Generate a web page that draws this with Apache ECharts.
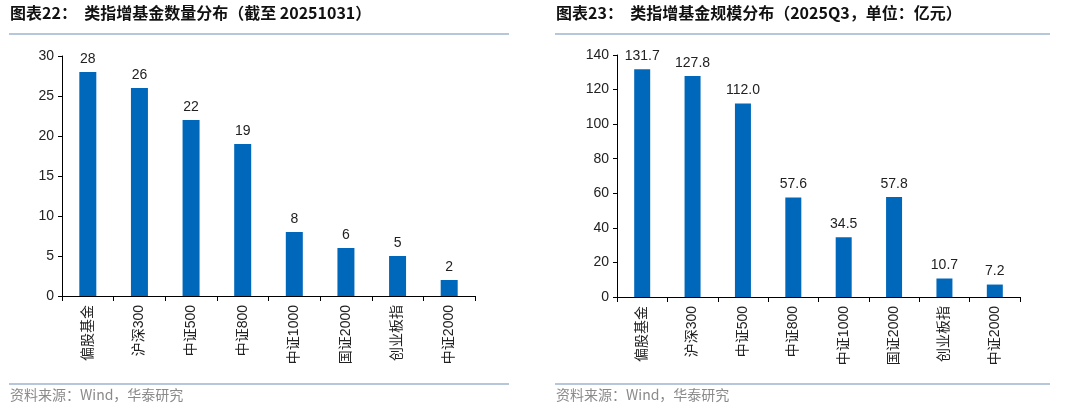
<!DOCTYPE html>
<html><head><meta charset="utf-8">
<script src="https://cdn.jsdelivr.net/npm/echarts@6/dist/echarts.min.js"></script>
<style>html,body{margin:0;padding:0;background:#fff}#c{width:1080px;height:414px}</style>
</head><body><div id="c"></div>
<script>
const categories = ['偏股基金','沪深300','中证500','中证800','中证1000','国证2000','创业板指','中证2000'];
const countValues = [28, 26, 22, 19, 8, 6, 5, 2];
const scaleValues = [131.7, 127.8, 112.0, 57.6, 34.5, 57.8, 10.7, 7.2];
const leftTitle = '图表22：  类指增基金数量分布（截至 20251031）';
const rightTitle = '图表23：  类指增基金规模分布（2025Q3，单位：亿元）';
const sourceText = '资料来源：Wind，华泰研究';

const FONT = '"Liberation Sans", Arial, "Noto Sans CJK SC", sans-serif';
const BAR = '#0068BB';
const chart = echarts.init(document.getElementById('c'), null, {renderer:'canvas'});

function xAxis(gi){
  return {type:'category', gridIndex:gi, data:categories,
    axisLine:{lineStyle:{color:'#000', width:1}},
    axisTick:{show:true, alignWithLabel:false, length:5, lineStyle:{color:'#000'}},
    axisLabel:{rotate:90, color:'#222', fontSize:14, fontFamily:FONT, margin:9, interval:0}};
}
function yAxis(gi, max, interval){
  return {type:'value', gridIndex:gi, min:0, max:max, interval:interval,
    axisLine:{show:true, lineStyle:{color:'#000', width:1}},
    axisTick:{show:true, length:4, lineStyle:{color:'#000'}},
    splitLine:{show:false},
    axisLabel:{color:'#222', fontSize:14, fontFamily:FONT, margin:8}};
}
const labelStyle = (fmt)=>({show:true, position:'top', distance:6, color:'#222', fontSize:14, fontFamily:FONT, formatter:fmt});

chart.setOption({
  animation:false,
  textStyle:{fontFamily:FONT},
  grid:[
    {left:62, top:56, width:413, height:240, containLabel:false},
    {left:617, top:55, width:403, height:242, containLabel:false}
  ],
  xAxis:[xAxis(0), xAxis(1)],
  yAxis:[yAxis(0, 30, 5), yAxis(1, 140, 20)],
  series:[
    {type:'bar', xAxisIndex:0, yAxisIndex:0, data:countValues, barWidth:17,
     itemStyle:{color:BAR}, label:labelStyle(p=>p.value)},
    {type:'bar', xAxisIndex:1, yAxisIndex:1, data:scaleValues, barWidth:16,
     itemStyle:{color:BAR}, label:labelStyle(p=>p.value.toFixed(1))}
  ],
  graphic:[
    {type:'text', left:10, top:5, style:{text:leftTitle, font:'bold 16px "Noto Sans CJK SC", "Liberation Sans", sans-serif', fill:'#111'}},
    {type:'text', left:556, top:5, style:{text:rightTitle, font:'bold 16px "Noto Sans CJK SC", "Liberation Sans", sans-serif', fill:'#111'}},
    {type:'line', shape:{x1:9, y1:34, x2:509, y2:34}, style:{stroke:'#9FB4CF', lineWidth:1.5}},
    {type:'line', shape:{x1:555, y1:34, x2:1050, y2:34}, style:{stroke:'#9FB4CF', lineWidth:1.5}},
    {type:'line', shape:{x1:9, y1:384, x2:509, y2:384}, style:{stroke:'#9FB4CF', lineWidth:1.5}},
    {type:'line', shape:{x1:555, y1:384, x2:1050, y2:384}, style:{stroke:'#9FB4CF', lineWidth:1.5}},
    {type:'text', left:10, top:388, style:{text:sourceText, font:'14px "Noto Sans CJK SC", sans-serif', fill:'#8a8a8a'}},
    {type:'text', left:556, top:388, style:{text:sourceText, font:'14px "Noto Sans CJK SC", sans-serif', fill:'#8a8a8a'}}
  ]
});
</script></body></html>
